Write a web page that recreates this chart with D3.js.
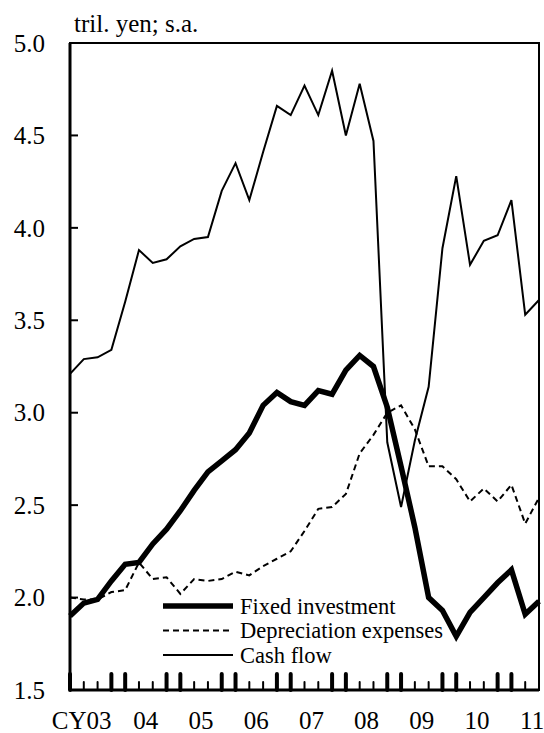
<!DOCTYPE html>
<html>
<head>
<meta charset="utf-8">
<script src="https://cdn.jsdelivr.net/npm/d3@7"></script>
<style>
  body { margin: 0; background: #fff; }
</style>
</head>
<body>
<div id="chart"></div>
<script>
// quarterly, CY2003 Q1 .. CY2011 Q3 (tril. yen; s.a.)
var yearLabels = ["CY03", "04", "05", "06", "07", "08", "09", "10", "11"];
var yTicks = [1.5, 2.0, 2.5, 3.0, 3.5, 4.0, 4.5, 5.0];

var fixedInvestment = [1.90, 1.97, 1.99, 2.09, 2.18, 2.19, 2.29, 2.37, 2.47, 2.58,
  2.68, 2.74, 2.80, 2.89, 3.04, 3.11, 3.06, 3.04, 3.12, 3.10, 3.23, 3.31, 3.25, 3.03,
  2.71, 2.38, 2.00, 1.93, 1.79, 1.92, 2.00, 2.08, 2.15, 1.91, 1.98];
var depreciation = [2.00, 1.99, 1.99, 2.03, 2.04, 2.19, 2.10, 2.11, 2.02, 2.10,
  2.09, 2.10, 2.14, 2.12, 2.17, 2.21, 2.25, 2.36, 2.48, 2.49, 2.56, 2.78, 2.88, 3.00,
  3.04, 2.91, 2.71, 2.71, 2.64, 2.52, 2.59, 2.52, 2.61, 2.40, 2.54];
var cashFlow = [3.21, 3.29, 3.30, 3.34, 3.60, 3.88, 3.81, 3.83, 3.90, 3.94,
  3.95, 4.20, 4.35, 4.15, 4.41, 4.66, 4.61, 4.77, 4.61, 4.85, 4.50, 4.78, 4.47, 2.84,
  2.49, 2.85, 3.14, 3.89, 4.28, 3.80, 3.93, 3.96, 4.15, 3.53, 3.61];

var series = [
  { name: "Fixed investment", values: fixedInvestment, width: 5.5, dash: null },
  { name: "Depreciation expenses", values: depreciation, width: 2, dash: "6,4" },
  { name: "Cash flow", values: cashFlow, width: 2, dash: null }
];

var serif = "'Liberation Serif', Tinos, 'Times New Roman', 'DejaVu Serif', serif";

var width = 544, height = 733;
var margin = { top: 43, right: 5, bottom: 43, left: 70 };
var innerW = width - margin.left - margin.right;
var innerH = height - margin.top - margin.bottom;

var svg = d3.select("#chart").append("svg")
  .attr("width", width)
  .attr("height", height)
  .attr("font-family", serif)
  .style("font-family", serif);

var g = svg.append("g")
  .attr("transform", "translate(" + margin.left + "," + margin.top + ")");

var n = cashFlow.length;
var x = d3.scaleLinear().domain([0, n - 1]).range([0, innerW]);
var y = d3.scaleLinear().domain([1.5, 5.0]).range([innerH, 0]);

// frame
g.append("rect")
  .attr("width", innerW).attr("height", innerH)
  .attr("fill", "none").attr("stroke", "#000").attr("stroke-width", 2);
g.append("line").attr("x1", 0).attr("x2", 0).attr("y1", 0).attr("y2", innerH)
  .attr("stroke", "#000").attr("stroke-width", 3);
g.append("line").attr("x1", 0).attr("x2", innerW).attr("y1", innerH).attr("y2", innerH)
  .attr("stroke", "#000").attr("stroke-width", 3);

// y axis: inward ticks, labels on the left
g.selectAll(".ytick")
  .data(yTicks.filter(function (d) { return d > 1.5 && d < 5.0; }))
  .enter().append("line")
  .attr("x1", 0).attr("x2", 8)
  .attr("y1", function (d) { return y(d); })
  .attr("y2", function (d) { return y(d); })
  .attr("stroke", "#000").attr("stroke-width", 2);

g.selectAll(".ylab")
  .data(yTicks)
  .enter().append("text")
  .attr("x", -25)
  .attr("y", function (d) { return y(d); })
  .attr("dy", "0.35em")
  .attr("text-anchor", "end")
  .style("font-size", "25px")
  .text(function (d) { return d.toFixed(1); });

svg.append("text")
  .attr("x", 74).attr("y", 32)
  .style("font-size", "25px")
  .text("tril. yen; s.a.");

// x axis: quarter ticks, long at first and last quarter of each year
var quarters = d3.range(n);
g.selectAll(".xtick")
  .data(quarters)
  .enter().append("line")
  .attr("x1", function (d) { return x(d); })
  .attr("x2", function (d) { return x(d); })
  .attr("y1", innerH)
  .attr("y2", function (d) { return innerH - (d % 4 === 0 || d % 4 === 3 ? 16 : 8); })
  .attr("stroke", "#000")
  .attr("stroke-linecap", "round")
  .attr("stroke-width", function (d) { return d % 4 === 0 || d % 4 === 3 ? 4 : 2; });

g.selectAll(".xlab")
  .data(yearLabels)
  .enter().append("text")
  .attr("x", function (d, i) { return x(i * 4 + 1.5) + (i === 0 ? -9 : 0); })
  .attr("y", innerH + 39)
  .attr("text-anchor", "middle")
  .style("font-size", "25px")
  .text(function (d) { return d; });

// lines
var line = d3.line()
  .x(function (d, i) { return x(i); })
  .y(function (d) { return y(d); });

g.selectAll(".series")
  .data(series.slice().reverse())
  .enter().append("path")
  .attr("d", function (d) { return line(d.values); })
  .attr("fill", "none")
  .attr("stroke", "#000")
  .attr("stroke-width", function (d) { return d.width; })
  .attr("stroke-dasharray", function (d) { return d.dash; })
  .attr("stroke-linejoin", "miter");

// legend
var legend = svg.append("g").attr("transform", "translate(163,606)");
var rows = legend.selectAll(".row")
  .data(series)
  .enter().append("g")
  .attr("transform", function (d, i) { return "translate(0," + i * 24.5 + ")"; });
rows.append("line")
  .attr("x1", 0).attr("x2", 70)
  .attr("stroke", "#000")
  .attr("stroke-width", function (d) { return d.width; })
  .attr("stroke-dasharray", function (d) { return d.dash; });
rows.append("text")
  .attr("x", 77)
  .attr("dy", "0.35em")
  .style("font-size", "22.5px")
  .text(function (d) { return d.name; });
</script>
</body>
</html>
